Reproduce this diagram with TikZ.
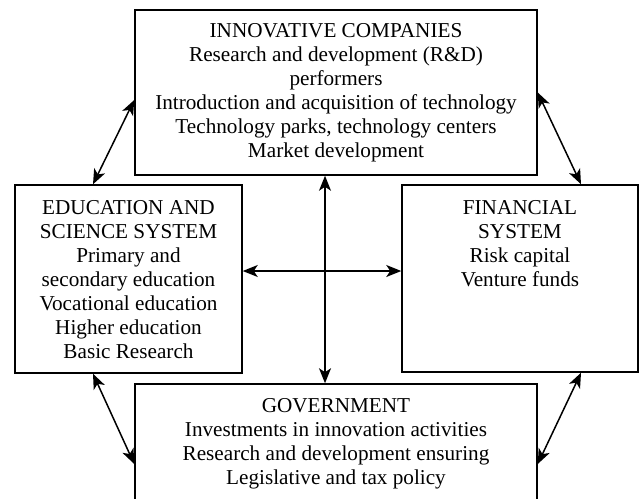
\documentclass[tikz,border=0pt]{standalone}
\usepackage{fontspec}
\setmainfont{Liberation Serif}
\usepackage{tikz}
\usetikzlibrary{arrows.meta, positioning}
\tikzset{every picture/.style={x=1pt,y=1pt},
  sysbox/.style={rectangle, draw=black, line width=1.5pt, inner sep=0pt},
  systext/.style={anchor=north, align=center, inner sep=0pt, font=\fontsize{21.2}{24}\selectfont},
  link/.style={{Stealth[length=15pt,width=12pt,inset=4pt]}-{Stealth[length=15pt,width=12pt,inset=4pt]}, line width=1.5pt}}

\begin{document}
\begin{tikzpicture}

    \useasboundingbox (0,0) rectangle (644,-498);
    \clip (0,0) rectangle (644,-498);

    \node[sysbox, minimum width=402, minimum height=165](ic) at (336, -92.5){};
    \node[sysbox, minimum width=227, minimum height=188](edu) at (128.5, -279){};
    \node[sysbox, minimum width=236, minimum height=187](fin) at (520, -278.5){};
    \node[sysbox, minimum width=402, minimum height=160](gov) at (336, -464){};

    \node[systext](ictext) at ([yshift=-14pt]ic.north){INNOVATIVE COMPANIES\\Research and development (R\&D)\\performers\\Introduction and acquisition of technology\\Technology parks, technology centers\\Market development};
    \node[systext](edutext) at ([yshift=-16pt]edu.north){EDUCATION AND\\SCIENCE SYSTEM\\Primary and\\secondary education\\Vocational education\\Higher education\\Basic Research};
    \node[systext](fintext) at ([yshift=-16pt]fin.north){FINANCIAL\\SYSTEM\\Risk capital\\Venture funds};
    \node[systext](govtext) at ([yshift=-15pt]gov.north){GOVERNMENT\\Investments in innovation activities\\Research and development ensuring\\Legislative and tax policy};

    \draw[link]([xshift=-35.5pt]edu.north)--([yshift=-7.5pt]ic.west);
    \draw[link](ic.east)--([xshift=61pt]fin.north);
    \draw[link]([xshift=-35.5pt]edu.south)--(gov.west);
    \draw[link]([xshift=61pt]fin.south)--(gov.east);
    \draw[link]([xshift=-11pt]ic.south)--([xshift=-11pt]gov.north);
    \draw[link]([yshift=8pt]edu.east)--([yshift=8pt]edu.east -| fin.west);
  \end{tikzpicture}
\end{document}
